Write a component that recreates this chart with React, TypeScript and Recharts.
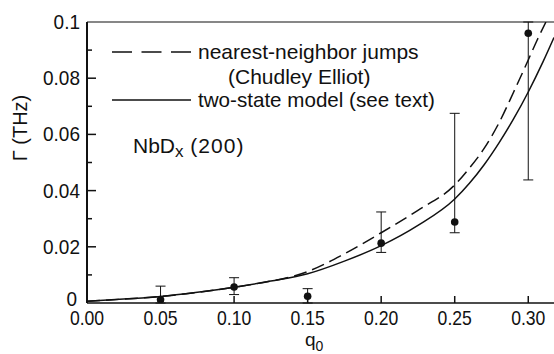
import React from "react";
import {
  ComposedChart,
  Line,
  Scatter,
  ErrorBar,
  XAxis,
  YAxis,
  ReferenceLine,
  Customized,
} from "recharts";

const FONT = '"Liberation Sans", Arial, sans-serif';
const INK = "#111";

// measured linewidths at each q0, with lower / upper error
const qMeasured = [0.05, 0.1, 0.15, 0.2, 0.25, 0.3];
const gammaMeasured = [0.0012, 0.0057, 0.0024, 0.0213, 0.0288, 0.096];
const errLow = [0.0012, 0.0027, 0.0024, 0.0033, 0.0038, 0.0522];
const errHigh = [0.0048, 0.0033, 0.0027, 0.0111, 0.0387, 0.004];

// two-state model curve
const qTwoState = [0, 0.025, 0.05, 0.075, 0.1, 0.125, 0.15, 0.175, 0.2, 0.225, 0.25, 0.26, 0.27, 0.28, 0.29, 0.3, 0.31, 0.3175];
const gammaTwoState = [0.0006, 0.0014, 0.0023, 0.0038, 0.0056, 0.0078, 0.0104, 0.0149, 0.0204, 0.0276, 0.037, 0.0426, 0.0492, 0.0569, 0.0655, 0.0751, 0.0858, 0.0945];

// Chudley-Elliot nearest-neighbor jump curve
const qJumps = [0, 0.025, 0.05, 0.075, 0.1, 0.125, 0.14, 0.15, 0.175, 0.2, 0.225, 0.25, 0.26, 0.27, 0.28, 0.29, 0.3, 0.306, 0.312];
const gammaJumps = [0.0006, 0.0014, 0.0023, 0.0038, 0.0056, 0.0078, 0.0095, 0.0112, 0.0175, 0.025, 0.033, 0.042, 0.048, 0.055, 0.064, 0.075, 0.0865, 0.0935, 0.1];

const xTicks = [0, 0.05, 0.1, 0.15, 0.2, 0.25, 0.3];
const yTicks = [0, 0.01, 0.02, 0.03, 0.04, 0.05, 0.06, 0.07, 0.08, 0.09, 0.1];

const points = qMeasured.map((q, i) => ({
  q,
  gamma: gammaMeasured[i],
  err: [errLow[i], errHigh[i]],
}));
const twoState = qTwoState.map((q, i) => ({ q, gamma: gammaTwoState[i] }));
const jumps = qJumps.map((q, i) => ({ q, gamma: gammaJumps[i] }));

const fmtY = (v: number) => String(Number(v.toFixed(2)));

// horizontally squeezed label, the digits on this plot are narrow
const Narrow = ({ x, y, sx, anchor, children }: any) => (
  <text
    transform={`translate(${x} ${y}) scale(${sx} 1)`}
    textAnchor={anchor}
    fontFamily={FONT}
    fontSize={20}
    fill={INK}
  >
    {children}
  </text>
);

// ticks point inward, labels outside
const YTick = ({ x, y, payload }: any) => {
  const v = payload.value as number;
  const major = Math.round(v * 100) % 2 === 0;
  return (
    <g>
      {v > 0 && v < 0.1 && (
        <line x1={x} x2={x + (major ? 9 : 5)} y1={y} y2={y} stroke={INK} strokeWidth={1.5} />
      )}
      {major && (
        <Narrow x={x - (v === 0 ? 10 : 7)} y={y + (v === 0 ? 3 : 7)} sx={0.95} anchor="end">
          {fmtY(v)}
        </Narrow>
      )}
    </g>
  );
};

const XTick = ({ x, y, payload }: any) => {
  const v = payload.value as number;
  return (
    <g>
      {v > 0 && <line x1={x} x2={x} y1={y} y2={y - 7} stroke={INK} strokeWidth={1.5} />}
      <Narrow x={x} y={y + 22} sx={0.88} anchor="middle">
        {v.toFixed(2)}
      </Narrow>
    </g>
  );
};

const Dot = (p: any) => <circle cx={p.cx} cy={p.cy} r={3.8} fill={INK} />;

const Annotations = () => (
  <g fontFamily={FONT} fill={INK}>
    <line x1={112} x2={191} y1={52} y2={52} stroke={INK} strokeWidth={1.5} strokeDasharray="20 9.5" />
    <text x={198} y={59} fontSize={21}>nearest-neighbor jumps</text>
    <text x={228} y={84} fontSize={21}>(Chudley Elliot)</text>
    <line x1={112} x2={191} y1={100} y2={100} stroke={INK} strokeWidth={1.5} />
    <text x={198} y={107} fontSize={20.6}>two-state model (see text)</text>
    <text x={133} y={153} fontSize={21}>
      NbD<tspan fontSize={17} dy={4}>x</tspan>
      <tspan dy={-4} letterSpacing={1}> (200)</tspan>
    </text>
    <text x={305} y={346} fontSize={19}>
      q<tspan fontSize={14} dy={5}>0</tspan>
    </text>
    <text x={27} y={128} fontSize={20} textAnchor="middle" transform="rotate(-90 27 128)">
      Γ (THz)
    </text>
  </g>
);

export default function App() {
  return (
    <div style={{ position: "absolute", left: 0, top: 0, background: "#fff" }}>
      <ComposedChart width={554} height={354} margin={{ top: 22, right: 0, bottom: 0, left: 0 }}>
        <XAxis
          type="number"
          dataKey="q"
          domain={[0, 0.3175]}
          allowDataOverflow
          ticks={xTicks}
          interval={0}
          height={51}
          tickSize={0}
          tickMargin={0}
          tick={<XTick />}
          axisLine={{ stroke: INK, strokeWidth: 1.5 }}
        />
        <YAxis
          type="number"
          dataKey="gamma"
          domain={[0, 0.1]}
          allowDataOverflow
          ticks={yTicks}
          interval={0}
          width={87}
          tickSize={0}
          tickMargin={0}
          tick={<YTick />}
          axisLine={{ stroke: INK, strokeWidth: 2 }}
        />
        <ReferenceLine y={0.1} stroke={INK} strokeWidth={1.2} />
        <Line
          data={jumps}
          dataKey="gamma"
          type="monotone"
          stroke={INK}
          strokeWidth={1.5}
          strokeDasharray="13 6"
          dot={false}
          isAnimationActive={false}
        />
        <Line
          data={twoState}
          dataKey="gamma"
          type="monotone"
          stroke={INK}
          strokeWidth={1.5}
          dot={false}
          isAnimationActive={false}
        />
        <Scatter data={points} dataKey="gamma" shape={<Dot />} isAnimationActive={false}>
          <ErrorBar dataKey="err" direction="y" width={5} stroke={INK} strokeWidth={1} />
        </Scatter>
        <Customized component={Annotations} />
      </ComposedChart>
    </div>
  );
}
